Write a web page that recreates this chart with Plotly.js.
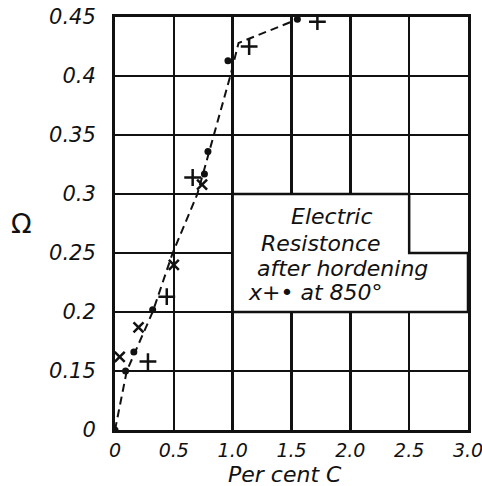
<!DOCTYPE html>
<html>
<head>
<meta charset="utf-8">
<script src="https://cdn.plot.ly/plotly-3.0.1.min.js"></script>
<style>html,body{margin:0;padding:0;background:#fff;}#chart{width:482px;height:486px;}</style>
</head>
<body>
<div id="chart"></div>
<script>
// Data
const dotX = [0, 0.09, 0.16, 0.32, 0.76, 0.79, 0.96, 1.55];
const dotY = [0, 0.15, 0.166, 0.202, 0.317, 0.336, 0.413, 0.448];
const crossX = [0.04, 0.2, 0.5, 0.74];
const crossY = [0.162, 0.187, 0.24, 0.308];
const plusX = [0.28, 0.44, 0.66, 1.14, 1.72];
const plusY = [0.158, 0.213, 0.314, 0.425, 0.446];
const trendX = [0, 0.1, 0.32, 0.49, 0.7, 0.98, 1.05, 1.55];
const trendY = [0, 0.15, 0.2, 0.25, 0.3, 0.4, 0.428, 0.448];
const xTickVals = [0, 0.5, 1.0, 1.5, 2.0, 2.5, 3.0];
const xTickText = ['0', '0.5', '1.0', '1.5', '2.0', '2.5', '3.0'];
const yTickVals = [0, 0.15, 0.2, 0.25, 0.3, 0.35, 0.4, 0.45];
const yTickText = ['0', '0.15', '0.2', '0.25', '0.3', '0.35', '0.4', '0.45'];
const noteLines = ['Electric', 'Resistonce', 'after hordening', 'x+\u2022 at 850\u00b0'];
const xTitle = 'Per cent C';
const yTitle = '\u03a9';

// Broken y scale: first cell spans 0..0.15, each further cell 0.05
function ys(v) { return v <= 0.15 ? v / 0.15 : 1 + (v - 0.15) / 0.05; }

const FONT = 'DejaVu Sans, sans-serif';
const ink = '#111';

const traces = [
  {x: trendX, y: trendY.map(ys), mode: 'lines', line: {color: ink, width: 2, dash: '8px,5px'}, hoverinfo: 'skip'},
  {x: dotX, y: dotY.map(ys), mode: 'markers', marker: {symbol: 'circle', size: 7, color: ink}},
  {x: crossX, y: crossY.map(ys), mode: 'markers', marker: {symbol: 'x-thin-open', size: 10, color: ink, line: {color: ink, width: 2.5}}},
  {x: plusX, y: plusY.map(ys), mode: 'markers', marker: {symbol: 'cross-thin-open', size: 12, color: ink, line: {color: ink, width: 2.5}}}
];

const L = 115, T = 17, W = 353, H = 413;
const px = v => (v - L) / W;
const py = v => 1 - (v - T) / H;

const noteX = [332, 321, 342, 315];
const noteYpx = [217, 243, 268, 292];

const annotations = noteLines.map((t, i) => ({
  text: t, xref: 'paper', yref: 'paper',
  x: px(noteX[i]), y: py(noteYpx[i]),
  xanchor: 'center', yanchor: 'middle', showarrow: false,
  font: {family: FONT, size: 22, color: ink, style: 'italic'}
}));
annotations.push({
  text: yTitle, xref: 'paper', yref: 'paper', x: px(21), y: py(223),
  xanchor: 'center', yanchor: 'middle', showarrow: false,
  font: {family: FONT, size: 27, color: ink}
});
annotations.push({
  text: xTitle, xref: 'paper', yref: 'paper', x: px(285), y: py(474),
  xanchor: 'center', yanchor: 'middle', showarrow: false,
  font: {family: FONT, size: 22, color: ink, style: 'italic'}
});

const layout = {
  width: 482, height: 486,
  margin: {l: L, r: 482 - L - W, t: T, b: 486 - T - H},
  paper_bgcolor: '#fff', plot_bgcolor: '#fff',
  showlegend: false,
  xaxis: {
    range: [0, 3], tickvals: xTickVals, ticktext: xTickText,
    showgrid: true, gridcolor: ink, gridwidth: 2.5,
    showline: true, linecolor: ink, linewidth: 3, mirror: true,
    zeroline: false, ticks: '', ticklabelstandoff: 1, ticklabeloverflow: 'allow',
    tickfont: {family: FONT, size: 19, color: ink, style: 'italic'}
  },
  yaxis: {
    range: [0, 7], tickvals: yTickVals.map(ys), ticktext: yTickText,
    showgrid: true, gridcolor: ink, gridwidth: 2.5,
    showline: true, linecolor: ink, linewidth: 3, mirror: true,
    zeroline: false, ticks: '', ticklabelstandoff: 12, ticklabeloverflow: 'allow',
    tickfont: {family: FONT, size: 21, color: ink, style: 'italic'}
  },
  shapes: [{
    type: 'path', xref: 'x', yref: 'y', layer: 'above',
    path: 'M1,' + ys(0.2) + ' L1,' + ys(0.3) + ' L2.5,' + ys(0.3) + ' L2.5,' + ys(0.25) + ' L3,' + ys(0.25) + ' L3,' + ys(0.2) + ' Z',
    fillcolor: '#fff', line: {color: ink, width: 2.5}
  }],
  annotations: annotations
};

Plotly.newPlot('chart', traces, layout, {staticPlot: true, displayModeBar: false});
</script>
</body>
</html>
